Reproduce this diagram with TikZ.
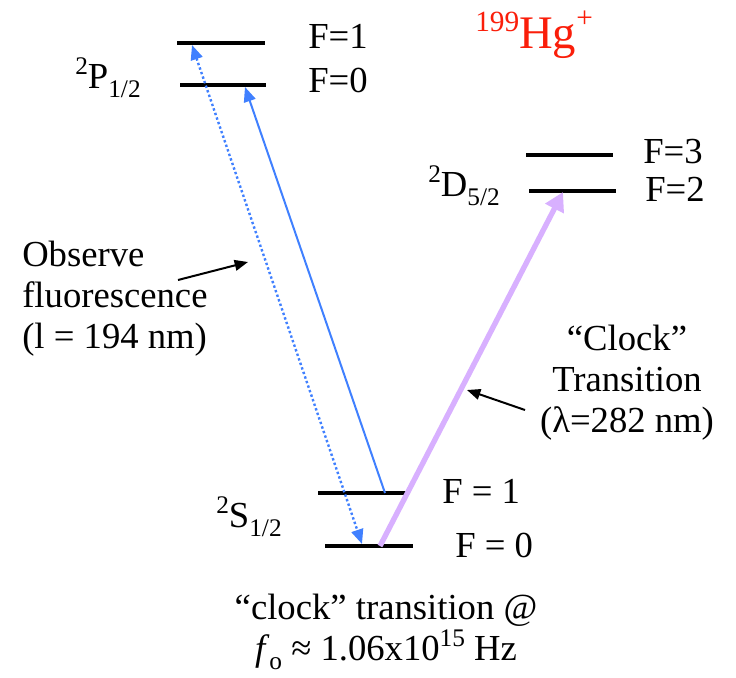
\documentclass[tikz,border=0pt]{standalone}
\usepackage{fontspec}
\setmainfont{Liberation Serif}
\usetikzlibrary{arrows.meta}
\definecolor{hgred}{RGB}{250,30,10}
\definecolor{lineblue}{RGB}{64,128,255}
\definecolor{clockpurple}{RGB}{216,176,255}
\newcommand\supx[1]{\raisebox{0.36em}{\fontsize{19}{19}\selectfont #1}}
\newcommand\subx[1]{\raisebox{-0.27em}{\fontsize{19}{19}\selectfont #1}}
\begin{document}
\begin{tikzpicture}[x=0.75pt,y=-0.75pt,
  lvl/.style={line width=3pt},
  lbl/.style={font=\fontsize{27.5}{30.75}\selectfont, inner sep=0pt, anchor=base west},
  solidblue/.style={draw=lineblue, line width=1.5pt, -{Triangle[length=11pt,width=9pt]}},
  dotblue/.style={draw=lineblue, line width=1.8pt, dash pattern=on 1.8pt off 1.8pt,
     {Triangle[length=11pt,width=9pt]}-{Triangle[length=11pt,width=9pt]}},
  clockarrow/.style={draw=clockpurple, line width=4pt, -{Triangle[length=14pt,width=15pt]}},
  pointer/.style={draw=black, line width=1.5pt, -{Triangle[length=10pt,width=8pt]}}]
\useasboundingbox (0,0) rectangle (736,678);

% energy levels
\coordinate (p1a) at (177,43);  \coordinate (p1b) at (265,43);
\coordinate (p0a) at (180,85);  \coordinate (p0b) at (266,85);
\coordinate (d3a) at (526,155); \coordinate (d3b) at (613,155);
\coordinate (d2a) at (529,191); \coordinate (d2b) at (616,191);
\coordinate (s1a) at (318,493); \coordinate (s1b) at (406,493);
\coordinate (s0a) at (325,546); \coordinate (s0b) at (413,546);
\draw[lvl] (p1a) -- (p1b);
\draw[lvl] (p0a) -- (p0b);
\draw[lvl] (d3a) -- (d3b);
\draw[lvl] (d2a) -- (d2b);
\draw[lvl] (s1a) -- (s1b);
\draw[lvl] (s0a) -- (s0b);

% transition end points
\coordinate (blueTail) at (385,493);
\coordinate (blueTip) at (245,87);
\coordinate (dotTop) at (192,45);
\coordinate (dotBot) at (362,544);
\coordinate (clockTail) at (380,546);
\coordinate (clockTip) at (563,192);
\draw[solidblue] (blueTail) -- (blueTip);
\draw[dotblue] (dotTop) -- (dotBot);
\draw[clockarrow] (clockTail) -- (clockTip);

% labels
\node[lbl] (fp1) at (308,48) {F=1};
\node[lbl] (fp0) at (308,92) {F=0};
\node[lbl] (pterm) at (75,88) {\supx{2}P\subx{1/2}};
\node[lbl, text=hgred, font=\fontsize{35}{35}\selectfont] (hg) at (475,48)
   {\raisebox{0.36em}{\fontsize{22}{22}\selectfont 199}Hg\raisebox{0.45em}{\fontsize{22}{22}\selectfont +}};
\node[lbl] (fd3) at (643,163) {F=3};
\node[lbl] (fd2) at (645,201) {F=2};
\node[lbl] (dterm) at (428,196) {\supx{2}D\subx{5/2}};
\node[lbl] (fs1) at (442,503) {F = 1};
\node[lbl] (fs0) at (455,557) {F = 0};
\node[lbl] (sterm) at (216,527) {\supx{2}S\subx{1/2}};
\node[lbl, align=left] (obs) at (22,348) {Observe\\fluorescence\\(l = 194 nm)};
\node[lbl, align=center, anchor=base] (clk) at (627,432) {“Clock”\\Transition\\(λ=282 nm)};
\node[lbl, align=center, anchor=base] (freq) at (386,660)
   {“clock” transition @\\\textit{f}\subx{o} ≈ 1.06x10\supx{15} Hz};

% pointers
\coordinate (obsFrom) at (178,280);
\coordinate (obsTo) at (248,262);
\coordinate (clkFrom) at (525,410);
\coordinate (clkTo) at (467,390);
\draw[pointer] (obsFrom) -- (obsTo);
\draw[pointer] (clkFrom) -- (clkTo);
\end{tikzpicture}
\end{document}
